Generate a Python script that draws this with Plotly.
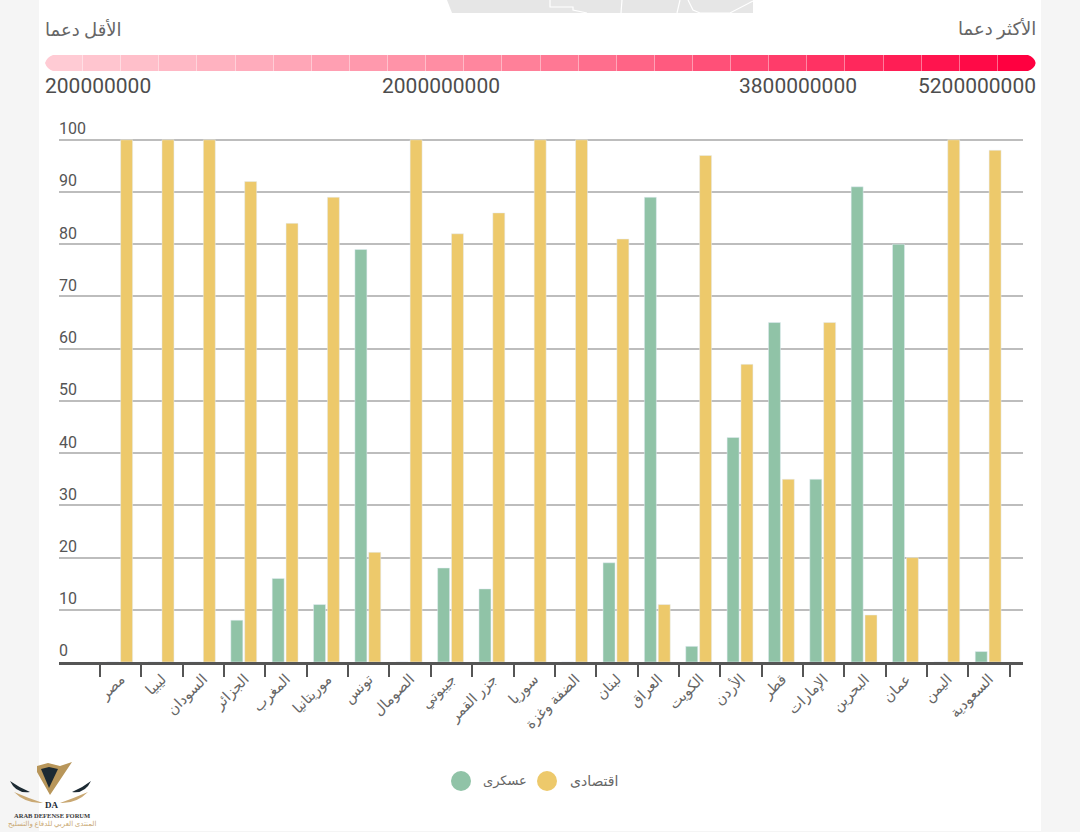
import plotly.graph_objects as go

# Arab countries: share of military vs economic support
countries = ['مصر', 'ليبيا', 'السودان', 'الجزائر', 'المغرب', 'موريتانيا', 'تونس', 'الصومال', 'جيبوتي', 'جزر القمر', 'سوريا',
             'الضفة وغزة', 'لبنان', 'العراق', 'الكويت', 'الأردن', 'قطر', 'الإمارات', 'البحرين', 'عمان', 'اليمن', 'السعودية']
military = [0, 0, 0, 8, 16, 11, 79, 0, 18, 14, 0, 0, 19, 89, 3, 43, 65, 35, 91, 80, 0, 2]
economic = [100, 100, 100, 92, 84, 89, 21, 100, 82, 86, 100, 100, 81, 11, 97, 57, 35, 65, 9, 20, 100, 98]
y_ticks = [0, 10, 20, 30, 40, 50, 60, 70, 80, 90, 100]

# Colour key at the top
scale_steps = [200000000, 400000000, 600000000, 800000000, 1000000000, 1200000000, 1400000000, 1600000000, 1800000000,
               2000000000, 2200000000, 2400000000, 2600000000, 2800000000, 3000000000, 3200000000, 3400000000, 3600000000,
               3800000000, 4000000000, 4200000000, 4400000000, 4600000000, 4800000000, 5000000000, 5200000000]
scale_labels = ['200000000', '2000000000', '3800000000', '5200000000']
least_label = 'الأقل دعما'
most_label = 'الأكثر دعما'

GREEN = '#90c3a7'
YELLOW = '#edc96b'
FONT = 'Roboto, DejaVu Sans, sans-serif'
W, H = 1080, 832


def fx(p):
    return p / W


def fy(p):
    return 1 - p / H


def paper_path(path, fill):
    return dict(type='path', xref='paper', yref='paper', fillcolor=fill, line_width=0, path=path)


def poly(points):
    # pixel points to a closed svg path in paper coordinates
    return 'M ' + ' L '.join(f'{fx(a)},{fy(b)}' for a, b in points) + ' Z'


fig = go.Figure()

fig.add_trace(go.Bar(x=countries, y=military, name='عسكرى', marker_color=GREEN, showlegend=False, width=0.29, offset=-0.335))
fig.add_trace(go.Bar(x=countries, y=economic, name='اقتصادى', marker_color=YELLOW, showlegend=False, width=0.29, offset=0.0))

fig.add_trace(go.Heatmap(z=[scale_steps], xaxis='x2', yaxis='y2', showscale=False, xgap=0.4, hoverinfo='skip',
                         colorscale=[[0, '#ffcbd4'], [0.5, '#ff7d97'], [1, '#ff0040']]))

shapes = [
    # white page panel
    dict(type='rect', xref='paper', yref='paper', x0=fx(39), x1=fx(1041), y0=fy(831), y1=1, fillcolor='white',
         line_width=0, layer='below'),
    # legend dots
    dict(type='circle', xref='paper', yref='paper', x0=fx(451), x1=fx(471), y0=fy(791), y1=fy(771), fillcolor=GREEN,
         line_width=0),
    dict(type='circle', xref='paper', yref='paper', x0=fx(537), x1=fx(557), y0=fy(791), y1=fy(771), fillcolor=YELLOW,
         line_width=0),
]

# cut off map at the top, with its borders
map_shapes = [
    paper_path(poly([(447, 0), (753, 0), (753, 13), (452, 13)]), '#e6e6e6'),
]
for border in ([(550, 0), (550, 7), (573, 7), (573, 10), (587, 13)],
               [(622, 0), (621, 13)],
               [(680, 0), (677, 13)],
               [(688, 0), (693, 10), (700, 13), (730, 13), (753, 1)]):
    map_shapes.append(dict(type='path', xref='paper', yref='paper', line=dict(color='white', width=1.2),
                           path='M ' + ' L '.join(f'{fx(a)},{fy(b)}' for a, b in border)))

# rounded ends of the colour key
for cx, sx in [(45, 1), (1036, -1)]:
    for cy, sy in [(55, 1), (71, -1)]:
        shapes.append(paper_path(f'M {fx(cx)},{fy(cy)} L {fx(cx + sx * 8)},{fy(cy)} '
                                 f'Q {fx(cx + sx * 2)},{fy(cy + sy * 2)} {fx(cx)},{fy(cy + sy * 8)} Z', 'white'))

annotations = []


def add_text(text, x, y, size, color, anchor='center', family=FONT):
    annotations.append(dict(text=text, x=fx(x), y=fy(y), xref='paper', yref='paper', showarrow=False, xanchor=anchor,
                            yanchor='middle', font=dict(size=size, color=color, family=family)))


add_text(least_label, 43, 29, 18, '#666666', 'left')
add_text(most_label, 1038, 29, 18, '#666666', 'right')
add_text(scale_labels[0], 43, 86, 21, '#4d4d4d', 'left')
add_text(scale_labels[1], 441, 86, 21, '#4d4d4d')
add_text(scale_labels[2], 798, 86, 21, '#4d4d4d')
add_text(scale_labels[3], 1038, 86, 21, '#4d4d4d', 'right')
add_text('عسكرى', 505, 781, 13, '#666666')
add_text('اقتصادى', 594, 781, 14, '#666666')
# forum logo in the corner
add_text('<b>DA</b>', 52, 805, 9, '#1c2a33', family='Liberation Serif')
add_text('<b>ARAB DEFENSE FORUM</b>', 52, 815, 6.5, '#3a3a3a', family='Liberation Serif')
add_text('المنتدى العربي للدفاع والتسليح', 52, 824, 7, '#c9a873')

logo_shapes = [
    paper_path(poly([(37, 766), (48, 763), (60, 766), (72, 762), (50, 795), (37, 772)]), '#b8965a'),
    paper_path(poly([(41, 769), (49, 767), (58, 769), (49, 788)]), '#1c2a33'),
    # wings
    paper_path(f'M {fx(10)},{fy(781)} Q {fx(16)},{fy(794)} {fx(30)},{fy(792)} Q {fx(20)},{fy(788)} {fx(10)},{fy(781)} Z', '#1c2a33'),
    paper_path(f'M {fx(91)},{fy(781)} Q {fx(85)},{fy(794)} {fx(72)},{fy(792)} Q {fx(82)},{fy(788)} {fx(91)},{fy(781)} Z', '#1c2a33'),
    paper_path(f'M {fx(14)},{fy(792)} Q {fx(26)},{fy(804)} {fx(43)},{fy(803)} Q {fx(28)},{fy(798)} {fx(14)},{fy(792)} Z', '#c9a873'),
    paper_path(f'M {fx(88)},{fy(792)} Q {fx(76)},{fy(804)} {fx(60)},{fy(803)} Q {fx(74)},{fy(798)} {fx(88)},{fy(792)} Z', '#c9a873'),
]

fig.update_layout(
    width=W,
    height=H,
    margin=dict(l=0, r=0, t=0, b=0),
    paper_bgcolor='#f5f5f5',
    plot_bgcolor='rgba(0,0,0,0)',
    font=dict(family=FONT, color='#666666'),
    barmode='overlay',
    shapes=shapes + map_shapes + logo_shapes,
    annotations=annotations,
    xaxis=dict(domain=[fx(59), fx(1023)], range=[-1.49, 21.82], type='category', tickson='boundaries', tickangle=-45,
               ticks='outside', ticklen=12, tickwidth=2, tickcolor='#555555', showgrid=False, showline=True,
               linecolor='#555555', linewidth=3, tickfont=dict(size=14.5, color='#666666')),
    # range runs past 100 so the label of the top gridline still has room
    yaxis=dict(domain=[fy(662), fy(118.9)], range=[0, 104], tickvals=y_ticks, ticklabelposition='inside top',
               ticklabelstandoff=-3, gridcolor='#bdbdbd', gridwidth=2, zeroline=False, showline=False,
               tickfont=dict(size=16, color='#555555')),
    xaxis2=dict(domain=[fx(45), fx(1036)], anchor='y2', visible=False),
    yaxis2=dict(domain=[fy(71), fy(55)], anchor='x2', visible=False),
)

fig.write_html('out.html', config={'displayModeBar': False},
               post_script="document.body.style.margin='0';document.body.style.overflow='hidden';")
